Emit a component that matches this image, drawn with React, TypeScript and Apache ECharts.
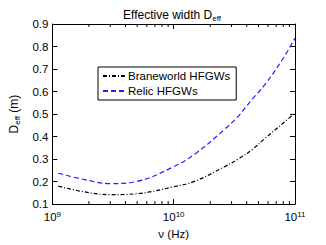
import React, { useEffect, useRef } from "react";
import * as echarts from "echarts";

const freq = [1.12e9, 1.8e9, 3e9, 4.9e9, 1e10, 1.5e10, 2.6e10, 3.4e10, 4.5e10, 5.6e10, 8e10, 1e11];
const braneworld = [0.18, 0.155, 0.142, 0.146, 0.177, 0.202, 0.265, 0.3, 0.345, 0.39, 0.46, 0.505];
const relic = [0.237, 0.21, 0.191, 0.2, 0.266, 0.323, 0.43, 0.49, 0.57, 0.628, 0.748, 0.838];
const minorTicks = [2e9, 3e9, 4e9, 5e9, 6e9, 7e9, 8e9, 9e9, 2e10, 3e10, 4e10, 5e10, 6e10, 7e10, 8e10, 9e10];
const seriesNames = ["Braneworld HFGWs", "Relic HFGWs"];

const FONT = "Liberation Sans";

export default function App() {
  const ref = useRef<HTMLDivElement>(null);
  useEffect(() => {
    const chart = echarts.init(ref.current!, null, { renderer: "svg" });
    const xCommon = {
      type: "log",
      logBase: 10,
      min: 1e9,
      max: 1e11,
      axisLine: { show: true, lineStyle: { color: "#000", width: 1 } },
      axisTick: { show: true, inside: true, length: 5, lineStyle: { color: "#000" } },
      splitLine: { show: false },
    };
    const yCommon = {
      type: "value",
      min: 0.1,
      max: 0.9,
      interval: 0.1,
      axisLine: { show: true, lineStyle: { color: "#000", width: 1 } },
      axisTick: { show: true, inside: true, length: 5, lineStyle: { color: "#000" } },
      splitLine: { show: false },
    };
    chart.setOption({
      animation: false,
      backgroundColor: "#fff",
      textStyle: { fontFamily: FONT },
      title: {
        text: "Effective width D{sub|eff}",
        left: 167,
        textAlign: "center",
        top: 2,
        textStyle: {
          fontFamily: FONT,
          fontSize: 12,
          fontWeight: "normal",
          color: "#000",
          rich: { sub: { fontFamily: FONT, fontSize: 8, verticalAlign: "bottom", padding: [7, 0, 0, 0], color: "#000" } },
        },
      },
      grid: { left: 43, top: 24, right: 31, bottom: 32 },
      legend: {
        left: 98,
        top: 67,
        orient: "vertical",
        data: seriesNames,
        backgroundColor: "#fff",
        borderColor: "#000",
        borderWidth: 1,
        borderRadius: 0,
        padding: [3, 6, 3, 4],
        itemGap: 3,
        itemWidth: 24,
        itemHeight: 10,
        itemStyle: { opacity: 0 },
        textStyle: { fontFamily: FONT, fontSize: 11.5, color: "#000", padding: [0, 0, 0, -4] },
      },
      xAxis: [
        {
          ...xCommon,
          position: "bottom",
          name: "ν (Hz)",
          nameLocation: "middle",
          nameGap: 21,
          nameTextStyle: { fontFamily: FONT, fontSize: 11.5, color: "#000" },
          axisLabel: {
            color: "#000",
            margin: 6,
            fontFamily: FONT,
            fontSize: 11.5,
            formatter: (v: number) => "10{sup|" + Math.round(Math.log10(v)) + "}",
            rich: { sup: { fontFamily: FONT, fontSize: 8, verticalAlign: "top", padding: [0, 0, 6, 0], color: "#000" } },
          },
        },
        { ...xCommon, position: "top", axisLabel: { show: false } },
      ],
      yAxis: [
        {
          ...yCommon,
          position: "left",
          name: "D{sub|eff} (m)",
          nameLocation: "middle",
          nameRotate: 90,
          nameGap: 27,
          nameTextStyle: {
            fontFamily: FONT,
            fontSize: 12,
            color: "#000",
            rich: { sub: { fontFamily: FONT, fontSize: 8, verticalAlign: "bottom", padding: [7, 0, 0, 0], color: "#000" } },
          },
          axisLabel: { color: "#000", fontFamily: FONT, fontSize: 11.5, margin: 4, formatter: (v: number) => v.toFixed(1) },
        },
        { ...yCommon, position: "right", axisLabel: { show: false } },
      ],
      series: [
        {
          name: seriesNames[0],
          type: "line",
          data: freq.map((f, i) => [f, braneworld[i]]),
          smooth: 0.4,
          symbol: "none",
          lineStyle: { color: "#000", width: 1.2, type: [4, 2, 1, 2] },
          itemStyle: { color: "#000" },
        },
        {
          name: seriesNames[1],
          type: "line",
          data: freq.map((f, i) => [f, relic[i]]),
          smooth: 0.4,
          symbol: "none",
          lineStyle: { color: "#1f1fff", width: 1.2, type: [5, 3] },
          itemStyle: { color: "#1f1fff" },
        },
        {
          type: "custom",
          silent: true,
          z: 10,
          data: minorTicks.map((f) => [f, 0.1]),
          renderItem: (params: any, api: any) => {
            const b = api.coord([api.value(0), 0.1]);
            const t = api.coord([api.value(0), 0.9]);
            return {
              type: "group",
              children: [
                { type: "line", shape: { x1: b[0], y1: b[1], x2: b[0], y2: b[1] - 3 }, style: { stroke: "#000", lineWidth: 1 } },
                { type: "line", shape: { x1: t[0], y1: t[1], x2: t[0], y2: t[1] + 3 }, style: { stroke: "#000", lineWidth: 1 } },
              ],
            };
          },
        },
      ],
    });
    return () => chart.dispose();
  }, []);
  return <div ref={ref} style={{ width: 326, height: 245, position: "absolute", left: 0, top: 0 }} />;
}
